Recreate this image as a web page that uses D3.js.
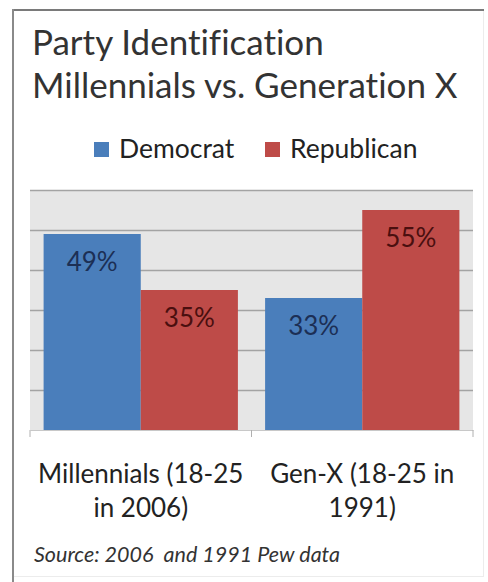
<!DOCTYPE html>
<html>
<head>
<meta charset="utf-8">
<script src="https://cdn.jsdelivr.net/npm/d3@7"></script>
<style>
  html, body { margin: 0; padding: 0; background: #ffffff; }
  svg { display: block; font-family: Lato, "Open Sans", sans-serif; font-variant-ligatures: none; }
</style>
</head>
<body>
<svg id="chart" width="488" height="582"></svg>
<script>
// Party identification shares, by generation
const categories = ["Millennials (18-25 in 2006)", "Gen-X (18-25 in 1991)"];
const categoryLines = [["Millennials (18-25", "in 2006)"], ["Gen-X (18-25 in", "1991)"]];
const seriesNames = ["Democrat", "Republican"];
const democrat = [49, 33];
const republican = [35, 55];
const yTicks = [0, 10, 20, 30, 40, 50, 60];

const colors = { Democrat: "#4a7ebb", Republican: "#be4b48" };
const labelColors = { Democrat: "#1c2f55", Republican: "#4a0f0f" };

const rows = categories.map((c, i) => ({
  category: c,
  lines: categoryLines[i],
  values: [
    { series: "Democrat", value: democrat[i] },
    { series: "Republican", value: republican[i] }
  ]
}));

const svg = d3.select("#chart");
const W = 488, H = 582;

// outer frame
svg.append("rect").attr("x", 0).attr("y", 0).attr("width", W).attr("height", H).attr("fill", "#fff");
svg.append("rect")
  .attr("x", 13.5).attr("y", 10.5).attr("width", 470).attr("height", 566)
  .attr("fill", "none").attr("stroke", "#ececec").attr("stroke-width", 1);
svg.append("line").attr("x1", 12).attr("x2", 484).attr("y1", 10).attr("y2", 10)
  .attr("stroke", "#7a7a7a").attr("stroke-width", 2);
svg.append("line").attr("x1", 13).attr("x2", 13).attr("y1", 9).attr("y2", 582)
  .attr("stroke", "#8a8a8a").attr("stroke-width", 2);

// title
const title = svg.append("text").attr("fill", "#333").attr("font-size", 35);
title.append("tspan").attr("x", 32).attr("y", 55).text("Party Identification");
title.append("tspan").attr("x", 32).attr("y", 98).text("Millennials vs. Generation X");

// legend
const legend = svg.append("g").attr("font-size", 26.5).attr("fill", "#222");
const legendPos = [{ sq: 94, tx: 119 }, { sq: 265, tx: 290 }];
seriesNames.forEach((s, i) => {
  legend.append("rect").attr("x", legendPos[i].sq).attr("y", 142)
    .attr("width", 15).attr("height", 15).attr("fill", colors[s]);
  legend.append("text").attr("x", legendPos[i].tx).attr("y", 158).text(s);
});

// plot area
const plot = { left: 30, right: 473, top: 190, bottom: 430 };
const x0 = d3.scaleBand().domain(categories).range([plot.left, plot.right]).paddingInner(0).paddingOuter(0);
const x1 = d3.scaleBand().domain(seriesNames).range([0, x0.bandwidth()]).paddingOuter(0.14).paddingInner(0);
const y = d3.scaleLinear().domain([0, 60]).range([plot.bottom, plot.top]);

svg.append("rect")
  .attr("x", plot.left).attr("y", plot.top)
  .attr("width", plot.right - plot.left).attr("height", plot.bottom - plot.top)
  .attr("fill", "#e6e6e6");

// horizontal gridlines
svg.append("g")
  .attr("transform", `translate(${plot.left},0)`)
  .call(d3.axisLeft(y).tickValues(yTicks.filter(t => t > 0)).tickSize(-(plot.right - plot.left)).tickFormat(""))
  .call(g => g.select(".domain").remove())
  .call(g => g.selectAll(".tick line").attr("stroke", "#a3a3a3").attr("stroke-width", 1.5));

// bars
const groups = svg.append("g").selectAll("g").data(rows).join("g")
  .attr("transform", d => `translate(${x0(d.category)},0)`);

groups.selectAll("rect").data(d => d.values).join("rect")
  .attr("x", d => x1(d.series))
  .attr("y", d => y(d.value))
  .attr("width", x1.bandwidth())
  .attr("height", d => y(0) - y(d.value))
  .attr("fill", d => colors[d.series]);

groups.selectAll("text").data(d => d.values).join("text")
  .attr("x", d => x1(d.series) + x1.bandwidth() / 2)
  .attr("y", d => y(d.value) + 37)
  .attr("text-anchor", "middle")
  .attr("font-size", 26)
  .attr("fill", d => labelColors[d.series])
  .text(d => d.value + "%");

// category axis
const xAxis = svg.append("g")
  .attr("transform", `translate(0,${plot.bottom})`)
  .call(d3.axisBottom(x0).tickSize(0).tickFormat(""));
xAxis.select(".domain").attr("stroke", "#c8c8c8").attr("stroke-width", 1);
const edges = [plot.left, plot.left + x0.bandwidth(), plot.right];
xAxis.selectAll(".edge").data(edges).join("line")
  .attr("class", "edge")
  .attr("x1", d => d).attr("x2", d => d)
  .attr("y1", 0).attr("y2", 7)
  .attr("stroke", "#b0b0b0");

// category labels
const catLabels = svg.append("g").attr("font-size", 26).attr("fill", "#222").attr("text-anchor", "middle");
rows.forEach(r => {
  const cx = x0(r.category) + x0.bandwidth() / 2;
  const t = catLabels.append("text");
  r.lines.forEach((ln, j) => {
    t.append("tspan").attr("x", cx).attr("y", 483 + j * 34).text(ln);
  });
});

// source note
svg.append("text")
  .attr("x", 34).attr("y", 562)
  .attr("font-size", 21.5).attr("font-style", "italic").attr("fill", "#333")
  .attr("xml:space", "preserve")
  .text("Source: 2006  and 1991 Pew data");
</script>
</body>
</html>
